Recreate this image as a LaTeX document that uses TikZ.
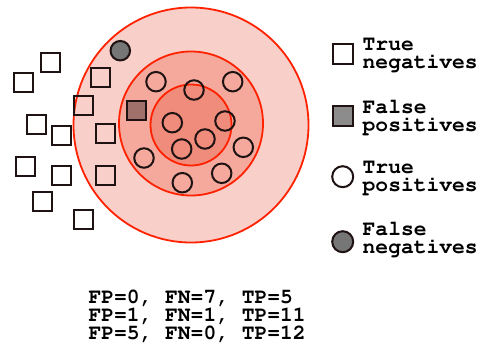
\documentclass[tikz,border=0pt]{standalone}
\usepackage[T1]{fontenc}
\definecolor{ringA}{RGB}{249,207,201}
\definecolor{ringB}{RGB}{244,169,156}
\definecolor{ringC}{RGB}{240,140,123}
\definecolor{ringline}{RGB}{255,34,0}
\definecolor{fpfill}{RGB}{160,112,106}
\definecolor{fnfill}{RGB}{118,118,118}
\definecolor{legfp}{RGB}{140,140,140}
\definecolor{shapeline}{RGB}{30,18,18}
\begin{document}
\begin{tikzpicture}[x=1pt,y=-1pt,
  ring/.style={circle,draw=ringline,line width=1.8pt,inner sep=0pt,outer sep=0pt},
  sq/.style={rectangle,draw=shapeline,line width=2pt,minimum size=19pt,inner sep=0pt,outer sep=0pt},
  dot/.style={circle,draw=shapeline,line width=2pt,minimum size=19.5pt,inner sep=0pt,outer sep=0pt},
  legtext/.style={font=\usefont{T1}{pcr}{b}{n}\fontsize{21.3}{18}\selectfont,align=left,inner sep=0pt,anchor=north west},
]
\useasboundingbox (0,0) rectangle (482,343);
\node[ring,fill=ringA,minimum size=235pt] (outer) at (191,125) {};
\node[ring,fill=ringB,minimum size=144pt] (middle) at (191,123.5) {};
\node[ring,fill=ringC,minimum size=81pt] (inner) at (191,125) {};
% true positives
\foreach \n/\x/\y in {t1/156/81.7,t2/194/90,t3/232.7/81.7,t4/172.3/122.7,t5/225/121,t6/205/139,t7/181.7/149,t8/243.3/147.3,t9/144/158,t10/221.7/173.3,t11/182.3/182.7}
  \node[dot] (\n) at (\x,\y) {};
% false negative
\node[dot,fill=fnfill] (fn) at (120.3,50.7) {};
% true negatives
\foreach \n/\x/\y in {n1/50.7/62.7,n2/23.3/82.7,n3/100.7/77.3,n4/83.3/105.7,n5/36/124.7,n6/61.3/135.7,n7/105.3/133.7,n8/25/166,n9/61.3/175.7,n10/105.3/175.7,n11/42.3/201,n12/83.3/219.3}
  \node[sq] (\n) at (\x,\y) {};
% false positive
\node[sq,fill=fpfill] (fp) at (136.7,110) {};
% legend
\node[sq,fill=white,minimum size=20pt] (l1) at (342.5,54) {};
\node[sq,fill=legfp,minimum size=20pt] (l2) at (342.5,115.5) {};
\node[dot,fill=white,minimum size=21pt] (l3) at (342.7,176.7) {};
\node[dot,fill=fnfill,minimum size=21pt] (l4) at (342.7,241.7) {};
\node[legtext] (t1) at (362.5,38) {True\\negatives};
\node[legtext] (t2) at (362.5,100) {False\\positives};
\node[legtext] (t3) at (362.5,161.7) {True\\positives};
\node[legtext] (t4) at (362.5,221.7) {False\\negatives};
\node[legtext] (res) at (88.3,289.5) {FP=0, FN=7, TP=5\\FP=1, FN=1, TP=11\\FP=5, FN=0, TP=12};
\end{tikzpicture}
\end{document}
